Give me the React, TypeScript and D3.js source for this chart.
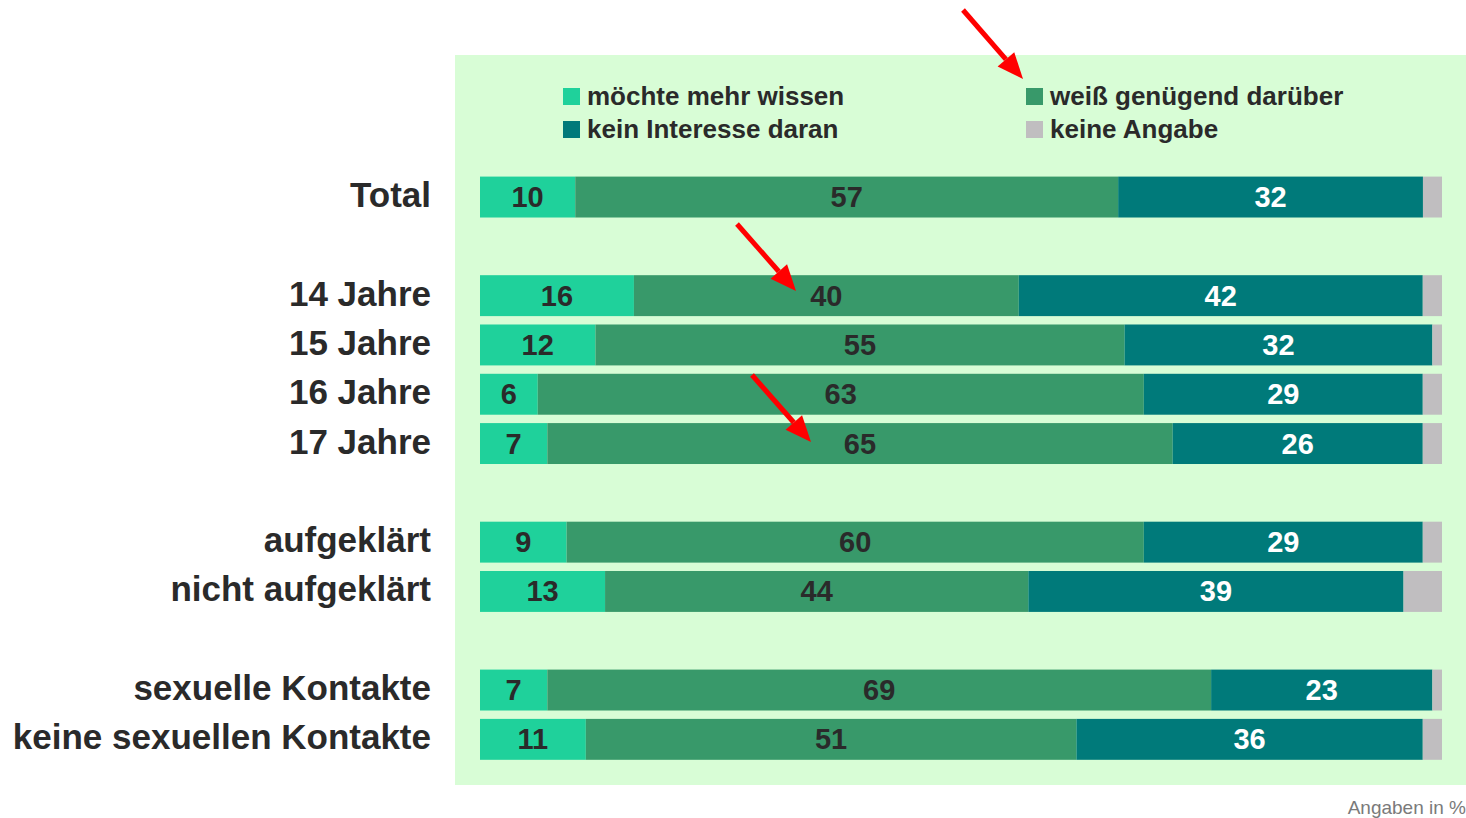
import React from "react";
import * as d3 from "d3";

const categories = ["Total", "", "14 Jahre", "15 Jahre", "16 Jahre", "17 Jahre", " ", "aufgeklärt", "nicht aufgeklärt", "  ", "sexuelle Kontakte", "keine sexuellen Kontakte"];
const moechteMehr = [10, null, 16, 12, 6, 7, null, 9, 13, null, 7, 11];
const weissGenuegend = [57, null, 40, 55, 63, 65, null, 60, 44, null, 69, 51];
const keinInteresse = [32, null, 42, 32, 29, 26, null, 29, 39, null, 23, 36];
const keineAngabe = [2, null, 2, 1, 2, 2, null, 2, 4, null, 1, 2];

const seriesNames = ["möchte mehr wissen", "weiß genügend darüber", "kein Interesse daran", "keine Angabe"];
const seriesColors = ["#1fd19b", "#38996a", "#007a7a", "#c0bec0"];
const labelColors = ["#2a2a2a", "#2a2a2a", "#ffffff", "none"];

const W = 1466, H = 818;
const barLeft = 480, barRight = 1442;

export default function App() {
  const y = d3.scaleBand<string>().domain(categories).range([172.4, 172.4 + 12 * 49.3]).paddingInner(0.17).paddingOuter(0.085);
  const allSeries = [moechteMehr, weissGenuegend, keinInteresse, keineAngabe];

  const rows = categories.map((c, i) => {
    if (moechteMehr[i] == null) return null;
    const vals = allSeries.map((s) => s[i] as number);
    const total = d3.sum(vals);
    const x = d3.scaleLinear().domain([0, total]).range([barLeft, barRight]);
    let acc = 0;
    const segs = vals.map((v, k) => {
      const s = { k, v, x0: x(acc), x1: x(acc + v) };
      acc += v;
      return s;
    });
    return { c, segs };
  });

  const arrows = [
    [963, 10, 1023, 79],
    [737, 224, 796, 291],
    [752, 375, 811, 442],
  ];

  const legendPos = [
    [563, 96], [1026, 96], [563, 129], [1026, 129],
  ];

  return (
    <svg width={W} height={H} style={{ position: "absolute", left: 0, top: 0 }} fontFamily="'Liberation Sans', Arial, sans-serif">
      <rect x={0} y={0} width={W} height={H} fill="#ffffff" />
      <rect x={455} y={55} width={1011} height={730} fill="#d8fdd6" />
      {legendPos.map(([lx, ly], i) => (
        <g key={i}>
          <rect x={lx} y={ly - 8} width={17} height={17} fill={seriesColors[i]} />
          <text x={lx + 24} y={ly + 9} fontSize={26} fontWeight={700} fill="#2a2a2a">{seriesNames[i]}</text>
        </g>
      ))}
      {rows.map((r, i) => {
        if (!r) return null;
        const y0 = y(r.c)!;
        const bh = y.bandwidth();
        const cy = y0 + bh / 2;
        return (
          <g key={i}>
            <text x={431} y={cy + 10} textAnchor="end" fontSize={35} fontWeight={700} fill="#2a2a2a">{r.c}</text>
            {r.segs.map((s) => (
              <rect key={s.k} x={s.x0} y={y0} width={s.x1 - s.x0} height={bh} fill={seriesColors[s.k]} />
            ))}
            {r.segs.filter((s) => s.k < 3).map((s) => (
              <text key={"t" + s.k} x={(s.x0 + s.x1) / 2} y={cy + 10} textAnchor="middle" fontSize={29} fontWeight={700} fill={labelColors[s.k]}>{s.v}</text>
            ))}
          </g>
        );
      })}
      {arrows.map(([x1, y1, x2, y2], i) => {
        const ang = Math.atan2(y2 - y1, x2 - x1);
        const len = 26, half = 11;
        const bx = x2 - len * Math.cos(ang), by = y2 - len * Math.sin(ang);
        const px = -Math.sin(ang) * half, py = Math.cos(ang) * half;
        return (
          <g key={"a" + i}>
            <line x1={x1} y1={y1} x2={bx} y2={by} stroke="#ff0000" strokeWidth={5} />
            <path d={`M${x2},${y2}L${bx + px},${by + py}L${bx - px},${by - py}Z`} fill="#ff0000" />
          </g>
        );
      })}
      <text x={1466} y={814} textAnchor="end" fontSize={19} fill="#7a7a7a">Angaben in %</text>
    </svg>
  );
}
